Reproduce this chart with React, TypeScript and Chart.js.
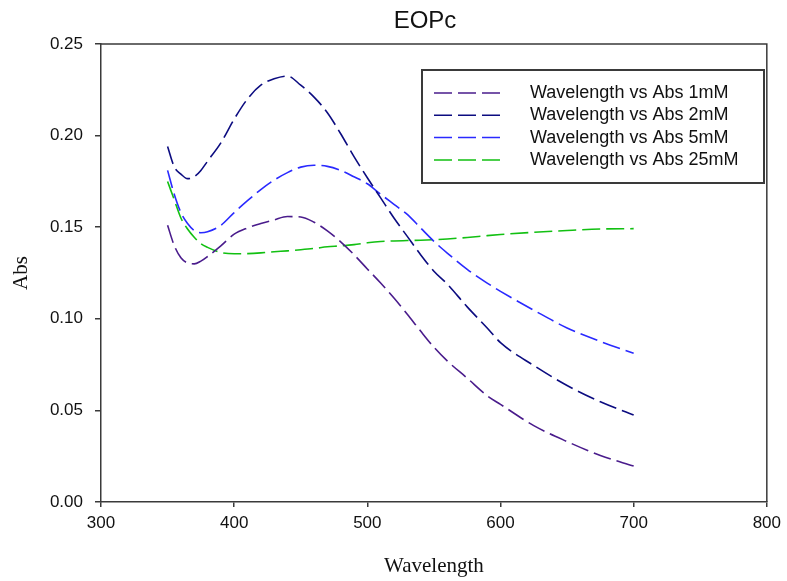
import React, { useEffect, useRef } from "react";
import { Chart, registerables } from "chart.js";

Chart.register(...registerables);

const wavelengths = [350, 355, 360, 365, 370, 375, 380, 390, 400, 410, 420, 430, 440, 450, 460, 470, 480, 490, 500, 510, 520, 530, 540, 550, 560, 575, 590, 600, 625, 650, 675, 700];

const abs1mM = [0.151, 0.140, 0.1333, 0.1305, 0.1300, 0.1315, 0.1340, 0.1398, 0.1462, 0.1496, 0.1520, 0.1540, 0.1558, 0.1556, 0.1527, 0.1480, 0.1420, 0.1350, 0.1272, 0.1195, 0.1113, 0.1025, 0.0933, 0.0845, 0.0770, 0.0676, 0.0580, 0.0533, 0.0417, 0.0330, 0.0254, 0.0196];
const abs2mM = [0.194, 0.183, 0.179, 0.1765, 0.1775, 0.181, 0.186, 0.196, 0.209, 0.220, 0.2275, 0.231, 0.2325, 0.2275, 0.221, 0.2125, 0.201, 0.1885, 0.177, 0.166, 0.155, 0.145, 0.135, 0.126, 0.119, 0.1065, 0.095, 0.087, 0.0745, 0.0636, 0.0547, 0.0475];
const abs5mM = [0.181, 0.168, 0.158, 0.152, 0.1482, 0.147, 0.1475, 0.151, 0.158, 0.1645, 0.1705, 0.1757, 0.1798, 0.1828, 0.1838, 0.1832, 0.181, 0.1775, 0.1737, 0.168, 0.1625, 0.157, 0.1496, 0.1423, 0.1359, 0.127, 0.1195, 0.115, 0.1047, 0.095, 0.0876, 0.0812];
const abs25mM = [0.175, 0.165, 0.155, 0.149, 0.1445, 0.141, 0.139, 0.1362, 0.1355, 0.1356, 0.136, 0.1366, 0.1371, 0.1377, 0.1384, 0.1393, 0.1398, 0.1405, 0.1415, 0.1422, 0.1425, 0.1427, 0.1429, 0.1432, 0.1436, 0.1444, 0.1454, 0.146, 0.1472, 0.1482, 0.149, 0.1492];

const seriesLabels = ["Wavelength vs Abs 1mM", "Wavelength vs Abs 2mM", "Wavelength vs Abs 5mM", "Wavelength vs Abs 25mM"];
const seriesColors = ["#4a1c8c", "#0c0c80", "#2a2aff", "#12c012"];
const titleText = "EOPc";
const xTitle = "Wavelength";
const yTitle = "Abs";

const SANS = "'Liberation Sans', Arial, sans-serif";
const SERIF = "'Liberation Serif', 'Times New Roman', serif";
const FRAME = "#3a3a3a";
const DASH = [18, 6];

const decorPlugin = {
  id: "decor",
  afterDraw(chart: any) {
    const ctx = chart.ctx;
    const a = chart.chartArea;
    ctx.save();
    // top and right frame
    ctx.strokeStyle = FRAME;
    ctx.lineWidth = 1.5;
    ctx.beginPath();
    ctx.moveTo(a.left, a.top);
    ctx.lineTo(a.right, a.top);
    ctx.lineTo(a.right, a.bottom);
    ctx.stroke();
    // title
    ctx.fillStyle = "#111";
    ctx.font = `24px ${SANS}`;
    ctx.textAlign = "center";
    ctx.textBaseline = "middle";
    ctx.fillText(titleText, 425, 21);
    // legend
    const bx = 422, by = 70, bw = 342, bh = 113;
    ctx.fillStyle = "#fff";
    ctx.fillRect(bx, by, bw, bh);
    ctx.strokeStyle = FRAME;
    ctx.lineWidth = 2;
    ctx.strokeRect(bx, by, bw, bh);
    ctx.font = `18px ${SANS}`;
    ctx.textAlign = "left";
    ctx.textBaseline = "middle";
    chart.data.datasets.forEach((ds: any, i: number) => {
      const y = 93 + i * 22.3;
      ctx.strokeStyle = ds.borderColor;
      ctx.lineWidth = 1.5;
      ctx.setLineDash(ds.borderDash);
      ctx.beginPath();
      ctx.moveTo(434, y);
      ctx.lineTo(504, y);
      ctx.stroke();
      ctx.setLineDash([]);
      ctx.fillStyle = "#111";
      ctx.fillText(ds.label, 530, y);
    });
    ctx.restore();
  },
};

export default function App() {
  const ref = useRef<HTMLCanvasElement | null>(null);
  useEffect(() => {
    document.body.style.margin = "0";
    const series = [abs1mM, abs2mM, abs5mM, abs25mM];
    const chart = new Chart(ref.current as HTMLCanvasElement, {
      type: "line",
      data: {
        datasets: series.map((vals, i) => ({
          label: seriesLabels[i],
          data: wavelengths.map((w, j) => ({ x: w, y: vals[j] })),
          borderColor: seriesColors[i],
          backgroundColor: seriesColors[i],
          borderWidth: 1.6,
          borderDash: DASH,
          pointRadius: 0,
          cubicInterpolationMode: "monotone" as const,
          fill: false,
        })),
      },
      options: {
        responsive: false,
        animation: false,
        devicePixelRatio: 1,
        layout: { padding: { left: 0, top: 44, right: 19, bottom: 0 } },
        plugins: {
          legend: { display: false },
          title: { display: false },
          tooltip: { enabled: false },
        },
        scales: {
          x: {
            type: "linear",
            min: 300,
            max: 800,
            afterFit: (s: any) => { s.height = 79; },
            ticks: { stepSize: 100, color: "#111", font: { family: SANS, size: 17 }, padding: 6, maxRotation: 0 },
            grid: { display: true, drawOnChartArea: false, drawTicks: true, tickLength: 5, color: FRAME, lineWidth: 1.5 },
            border: { display: true, color: FRAME, width: 1.5 },
            title: { display: true, text: xTitle, color: "#111", font: { family: SERIF, size: 21 }, padding: { top: 0, bottom: 2 } },
          },
          y: {
            type: "linear",
            min: 0,
            max: 0.25,
            afterFit: (s: any) => { s.width = 101; },
            ticks: { stepSize: 0.05, color: "#111", font: { family: SANS, size: 17 }, padding: 12, callback: (v: any) => Number(v).toFixed(2) },
            grid: { display: true, drawOnChartArea: false, drawTicks: true, tickLength: 6, color: FRAME, lineWidth: 1.5 },
            border: { display: true, color: FRAME, width: 1.5 },
            title: { display: true, text: yTitle, color: "#111", font: { family: SERIF, size: 21 }, padding: { top: 9, bottom: 0 } },
          },
        },
      },
      plugins: [decorPlugin],
    });
    return () => chart.destroy();
  }, []);
  return (
    <div style={{ position: "absolute", left: 0, top: 0, width: 787, height: 581, background: "#fff" }}>
      <canvas ref={ref} width={787} height={581} />
    </div>
  );
}
